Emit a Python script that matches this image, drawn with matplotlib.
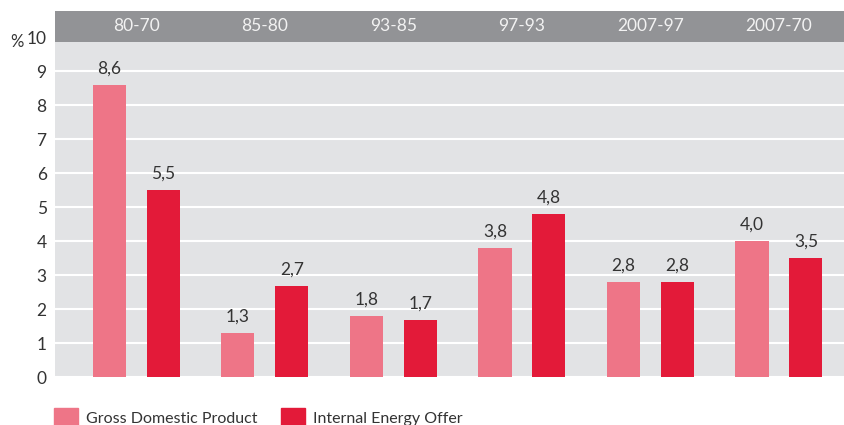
import matplotlib.pyplot as plt
from matplotlib.patches import Patch

# dados
periodos = ['80-70', '85-80', '93-85', '97-93', '2007-97', '2007-70']
pib = [8.6, 1.3, 1.8, 3.8, 2.8, 4.0]
energia = [5.5, 2.7, 1.7, 4.8, 2.8, 3.5]
nomes = ['Gross Domestic Product', 'Internal Energy Offer']

cor_pib = '#ee7587'
cor_energia = '#e31a39'
fundo = '#e2e3e5'
cabecalho = '#929396'
texto = '#333333'

plt.rcParams['font.family'] = ['Lato', 'DejaVu Sans']

fig = plt.figure(figsize=(8.44, 4.25), dpi=100)
ax = fig.add_axes([55 / 844, 1 - 377.3 / 425, 1 - 55 / 844, (377.3 - 11) / 425])
ax.set_facecolor(fundo)

x = list(range(len(periodos)))
desloc = 0.21
larg = 0.257
b1 = ax.bar([i - desloc for i in x], pib, width=larg, color=cor_pib, zorder=2)
b2 = ax.bar([i + desloc for i in x], energia, width=larg, color=cor_energia, zorder=2)

for barras, valores in [(b1, pib), (b2, energia)]:
    for b, v in zip(barras, valores):
        ax.annotate(f'{v:.1f}'.replace('.', ','), (b.get_x() + b.get_width() / 2, v),
                    xytext=(0, 6), textcoords='offset points', ha='center', va='bottom',
                    fontsize=12.5, color=texto)

topo = (377.3 - 11) / 34
base_cab = (377.3 - 41.5) / 34
ax.set_ylim(0, topo)
ax.set_xlim(-0.634, 5.506)

# faixa cinza do topo com os periodos
ax.axhspan(base_cab, topo, color=cabecalho, zorder=3, lw=0)
for i, p in enumerate(periodos):
    ax.text(i, (base_cab + topo) / 2, p, ha='center', va='center', color='#f2f2f2',
            fontsize=12.5, zorder=4)

ax.set_yticks(range(0, 11))
ax.set_xticks([])
ax.tick_params(axis='y', length=0, pad=6, labelsize=12.5, labelcolor=texto)
ax.grid(axis='y', color='white', lw=1.5, zorder=1)
for s in ax.spines.values():
    s.set_visible(False)

fig.text(17 / 844, 1 - 42 / 425, '%', ha='center', va='center', fontsize=12, color=texto)

alcas = [Patch(color=cor_pib), Patch(color=cor_energia)]
fig.legend(alcas, nomes, loc='lower left', bbox_to_anchor=(54 / 844, -0.005), ncol=2,
           frameon=False, fontsize=11.5, handlelength=1.5, handleheight=1.5,
           handletextpad=0.5, columnspacing=1.5, borderpad=0, borderaxespad=0,
           labelcolor=texto)

fig.savefig('out.png', dpi=100)
